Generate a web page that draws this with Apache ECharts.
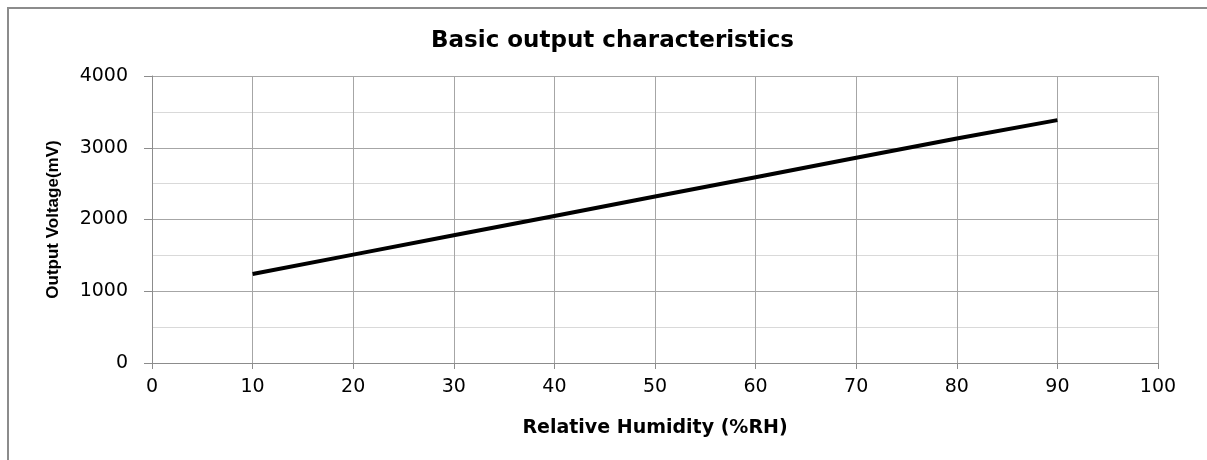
<!DOCTYPE html>
<html>
<head>
<meta charset="utf-8">
<script src="https://cdn.jsdelivr.net/npm/echarts@6/dist/echarts.min.js"></script>
<style>
html,body{margin:0;padding:0;background:#fff;}
#chart{width:1207px;height:460px;}
</style>
</head>
<body>
<div id="chart"></div>
<script>
// 数据
var humidity = [10, 20, 30, 40, 50, 60, 70, 80, 90];
var voltage = [1240, 1510, 1780, 2050, 2320, 2590, 2860, 3130, 3385];
var titleText = 'Basic output characteristics';
var xName = 'Relative Humidity (%RH)';
var yName = 'Output Voltage(mV)';

var points = [];
for (var i = 0; i < humidity.length; i++) {
    points.push([humidity[i], voltage[i]]);
}

var myChart = echarts.init(document.getElementById('chart'));
var option = {
    backgroundColor: '#fff',
    animation: false,
    title: {
        text: titleText,
        left: 426,
        top: 25,
        textStyle: {fontFamily: 'DejaVu Sans', fontSize: 23, fontWeight: 'bold', color: '#000'}
    },
    graphic: [{
        type: 'polyline',
        shape: {points: [[8, 470], [8, 8], [1220, 8]]},
        style: {stroke: '#8c8c8c', lineWidth: 2, fill: null}
    }],
    grid: {left: 152, right: 49, top: 76, bottom: 97},
    xAxis: {
        type: 'value',
        min: 0, max: 100, interval: 10,
        name: xName,
        nameLocation: 'middle',
        nameGap: 56,
        nameTextStyle: {fontFamily: 'DejaVu Sans', fontSize: 19, fontWeight: 'bold', color: '#000'},
        axisLine: {show: true, lineStyle: {color: '#8c8c8c', width: 1}},
        axisTick: {show: true, length: 6, lineStyle: {color: '#8c8c8c'}},
        axisLabel: {fontFamily: 'DejaVu Sans', fontSize: 19, color: '#000', margin: 15},
        splitLine: {show: true, lineStyle: {color: '#a6a6a6', width: 1}}
    },
    yAxis: {
        type: 'value',
        min: 0, max: 4000, interval: 1000,
        name: yName,
        nameLocation: 'middle',
        nameGap: 90,
        nameTextStyle: {fontFamily: 'Liberation Sans', fontSize: 17, fontWeight: 'bold', color: '#000'},
        axisLine: {show: true, lineStyle: {color: '#8c8c8c', width: 1}},
        axisTick: {show: true, length: 8, lineStyle: {color: '#8c8c8c'}},
        axisLabel: {
            fontFamily: 'DejaVu Sans', fontSize: 19, color: '#000', margin: 24,
            formatter: function (v) { return String(v); }
        },
        splitLine: {show: true, lineStyle: {color: '#a6a6a6', width: 1}},
        minorTick: {show: false, splitNumber: 2},
        minorSplitLine: {show: true, lineStyle: {color: '#d9d9d9', width: 1}}
    },
    series: [{
        type: 'line',
        data: points,
        showSymbol: false,
        smooth: false,
        lineStyle: {color: '#000', width: 4}
    }]
};
myChart.setOption(option);
</script>
</body>
</html>
